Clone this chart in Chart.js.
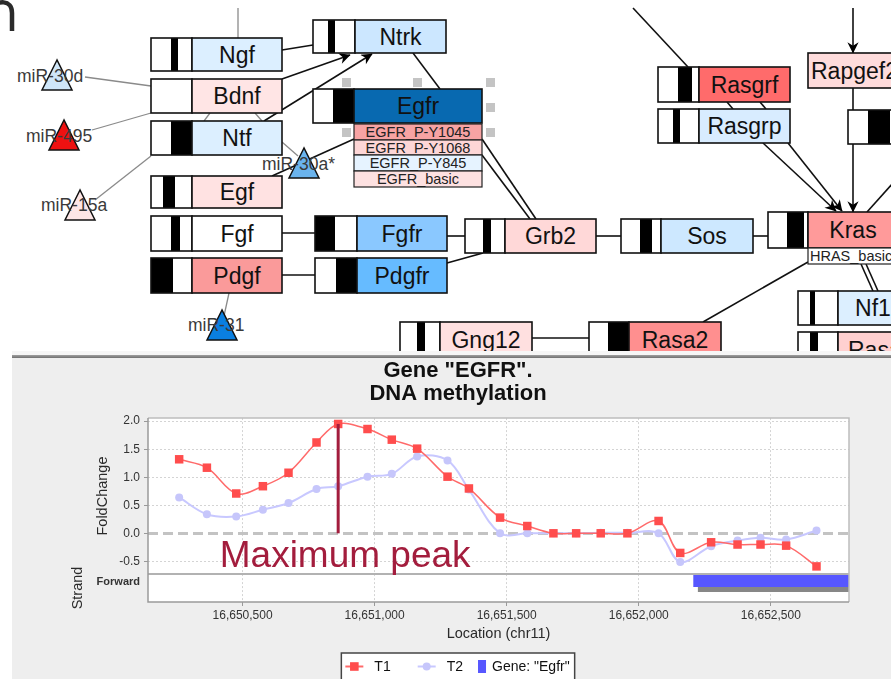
<!DOCTYPE html>
<html>
<head>
<meta charset="utf-8">
<script src="https://cdn.jsdelivr.net/npm/chart.js@4/dist/chart.umd.min.js"></script>
<style>
html,body{margin:0;padding:0;background:#fff;overflow:hidden;width:891px;height:679px;font-family:"Liberation Sans",Arial,sans-serif}
#diagram{position:absolute;left:0;top:0}
#panel{position:absolute;left:12px;top:351px;width:879px;height:328px;background:#eeeeee;overflow:hidden}
#band{position:absolute;left:0;top:0;width:100%;height:4px;background:#f6f6f6}
#rule{position:absolute;left:0;top:4px;width:100%;height:3px;background:linear-gradient(#a0a0a0,#707070)}
#wrap{position:absolute;left:0;top:7px;width:892px;height:321px}
</style>
</head>
<body>
<svg id="diagram" width="891" height="351" viewBox="0 0 891 351"></svg>
<div id="panel"><div id="band"></div><div id="rule"></div>
<div id="wrap"><canvas id="c" width="892" height="321"></canvas></div></div>
<script>
// ---------------- chart data ----------------
const titleLines = ['Gene "EGFR".', 'DNA methylation'];
const locations = [16650260,16650365,16650476,16650577,16650674,16650780,16650862,16650973,16651065,16651161,16651276,16651357,16651475,16651578,16651677,16651763,16651856,16651957,16652075,16652157,16652274,16652374,16652461,16652558,16652673];
const t1Values = [1.32,1.17,0.71,0.84,1.08,1.62,1.95,1.86,1.67,1.51,1.01,0.80,0.28,0.13,0.00,0.00,0.00,0.00,0.22,-0.35,-0.16,-0.20,-0.20,-0.22,-0.59];
const t2Values = [0.64,0.34,0.30,0.42,0.54,0.79,0.84,1.01,1.06,1.37,1.30,0.78,0.00,0.00,0.00,0.00,0.01,0.01,0.00,-0.51,-0.23,-0.13,-0.08,-0.11,0.05];
const seriesNames = ['T1', 'T2'];
const geneName = 'Egfr';
const geneStart = 16652206;
const geneShadowStart = 16652223;
const geneEnd = 16653000;
const xTickValues = [16650500,16651000,16651500,16652000,16652500];
const yTickValues = [-0.5,0,0.5,1,1.5,2];
const strandLabels = ['Forward'];
const xAxisTitle = 'Location (chr11)';
const yAxisTitle = 'FoldChange';
const strandTitle = 'Strand';
const peakLabel = 'Maximum peak';

// ---------------- pathway diagram (static picture) ----------------
(function(){
  const S = [];
  const add = s => S.push(s);
  const F = '"Liberation Sans",Arial,sans-serif';
  add('<defs><marker id="ah" viewBox="0 0 10 10" refX="9.5" refY="5" markerWidth="8" markerHeight="7" orient="auto" markerUnits="strokeWidth"><path d="M0,0 L10,5 L0,10 L3,5 z" fill="#000"/></marker></defs>');
  function L(x1,y1,x2,y2,opt){opt=opt||{};add(`<line x1="${x1}" y1="${y1}" x2="${x2}" y2="${y2}" stroke="${opt.c||'#111'}" stroke-width="${opt.w||1.6}"${opt.a?' marker-end="url(#ah)"':''}/>`);}
  function G(x1,y1,x2,y2){L(x1,y1,x2,y2,{c:'#8a8a8a',w:1.3});}
  function T(x,y,txt,fs,anchor,color){add(`<text x="${x}" y="${y}" font-family='${F}' font-size="${fs}" text-anchor="${anchor||'start'}" fill="${color||'#111'}">${txt}</text>`);}
  function gb(x,y,h,segs,x2,fill,label,opt){
    opt=opt||{};
    let cx=x;
    segs.forEach(([w,c])=>{add(`<rect x="${cx}" y="${y}" width="${w}" height="${h}" fill="${c}"/>`);cx+=w;});
    if(cx>x) add(`<rect x="${x}" y="${y}" width="${cx-x}" height="${h}" fill="none" stroke="#111" stroke-width="1.6"/>`);
    add(`<rect x="${cx}" y="${y}" width="${x2-cx}" height="${h}" fill="${fill}" stroke="#111" stroke-width="1.6"/>`);
    const fs=opt.fs||23;
    const tx = opt.tx!==undefined?opt.tx:(cx+x2)/2;
    T(tx, y+h/2+0.36*fs, label, fs, opt.anchor||'middle', opt.color||'#111');
  }
  function sub(x,y,w,h,fill,label){
    add(`<rect x="${x}" y="${y}" width="${w}" height="${h}" fill="${fill}" stroke="#222" stroke-width="1.2"/>`);
    T(x+w/2, y+h/2+5.2, label, 14.5, 'middle', '#222');
  }
  function tri(cx,top,fill){add(`<polygon points="${cx},${top} ${cx-15},${top+30} ${cx+15},${top+30}" fill="${fill}" stroke="#111" stroke-width="1.5"/>`);}

  // top-left partial letter
  add('<path d="M-9,9 C-3,0 12,-1 12,13 L12,31" stroke="#2b2b2b" stroke-width="4.5" fill="none"/>');
  // grey connectors
  G(238,8,238,38); G(85,77,151,86); G(92,130,151,113); G(95,200,151,156);
  G(282,142,298,156); G(229,293,224,316); G(210,113,204,121); G(255,113,262,121);
  // black connectors
  L(282,50,313,45); L(282,79,350,55,{a:1}); L(264,121,372,54,{a:1});
  L(413,53,440,89); L(272,176,354,139); L(482,139,536,219); L(482,155,530,219);
  L(282,233,315,233); L(282,275,315,275); L(447,236,465,236); L(447,263,483,253);
  L(596,236,621,236); L(753,236,768,236); L(633,8,688,67);
  L(853,8,853,53,{a:1}); L(853,88,853,110); L(853,144,853,212,{a:1});
  L(727,102,733,109); L(760,102,766,109);
  L(763,143,836,211,{a:1}); L(788,143,842,211,{a:1}); L(867,212,893,183);
  L(808,262,703,322); L(861,264,873,291); L(866,264,878,291); L(532,338,589,338);
  // grey handles around Egfr
  [[342,78],[413,78],[486,78],[486,103],[486,128],[342,128]].forEach(([x,y])=>add(`<rect x="${x}" y="${y}" width="9" height="9" fill="#c4c4c4"/>`));
  const W='#ffffff',B='#000000';
  gb(151,38,33,[[20,W],[7,B],[14,W]],282,'#dcefff','Ngf');
  gb(151,79,34,[[41,W]],282,'#ffe5e5','Bdnf');
  gb(151,121,34,[[20,W],[21,B]],282,'#dcefff','Ntf');
  gb(151,176,32,[[12,W],[12,B],[17,W]],282,'#ffe2e2','Egf');
  gb(151,216,35,[[20,W],[9,B],[12,W]],282,'#ffffff','Fgf');
  gb(151,258,35,[[22,B],[19,W]],282,'#fa9a9a','Pdgf');
  gb(313,20,33,[[15,W],[7,B],[20,W]],446,'#cce7ff','Ntrk');
  gb(313,89,34,[[20,W],[21,B]],482,'#0869b0','Egfr');
  sub(354,124,128,16,'#f7a3a3','EGFR_P-Y1045');
  sub(354,140,128,15,'#fdd6d6','EGFR_P-Y1068');
  sub(354,155,128,16,'#e6f3ff','EGFR_P-Y845');
  sub(354,171,128,16,'#fde1e1','EGFR_basic');
  gb(315,216,35,[[20,B],[22,W]],447,'#8ac8ff','Fgfr');
  gb(315,258,35,[[21,W],[21,B]],447,'#66bbff','Pdgfr');
  gb(658,67,35,[[20,W],[14,B],[7,W]],790,'#ff6b6b','Rasgrf');
  gb(658,109,34,[[15,W],[7,B],[19,W]],790,'#d8ecff','Rasgrp');
  gb(808,53,35,[],905,'#ffdcdc','Rapgef2',{tx:811,anchor:'start'});
  gb(848,110,34,[[20,W],[22,B],[10,W]],905,'#ffdcdc','');
  gb(465,219,34,[[18,W],[8,B],[14,W]],596,'#ffd8d8','Grb2');
  gb(621,219,34,[[19,W],[12,B],[9,W]],753,'#cde8ff','Sos');
  gb(768,212,36,[[19,W],[17,B],[4,W]],898,'#ff9a9a','Kras');
  sub(808,248,90,16,'#ffffff','');
  T(810,261,'HRAS_basic',14.5,'start','#222');
  gb(798,291,34,[[12,W],[5,B],[23,W]],930,'#dcefff','Nf1',{tx:873});
  gb(798,332,35,[[12,W],[8,B],[20,W]],930,'#ffd0d0','Rasa1',{tx:848,anchor:'start'});
  gb(400,322,35,[[17,W],[8,B],[15,W]],532,'#ffe0e0','Gng12');
  gb(589,322,35,[[19,W],[21,B]],721,'#ff8f8f','Rasa2');
  // miRNA triangles
  tri(57,60,'#cfe6f8'); tri(64,120,'#ee1111'); tri(80,190,'#fde6e6'); tri(304,148,'#6ab4ee'); tri(222,310,'#0a7fe0');
  T(17,82,'miR-30d',17.5,'start','#3a3a3a');
  T(26,142,'miR-495',17.5,'start','#3a3a3a');
  T(41,211,'miR-15a',17.5,'start','#3a3a3a');
  T(262,170,'miR-30a*',17.5,'start','#3a3a3a');
  T(188,331,'miR-31',17.5,'start','#3a3a3a');
  document.getElementById('diagram').innerHTML = S.join('');
})();

// ---------------- chart ----------------
const FONT = '"Liberation Sans", Arial, sans-serif';
Chart.defaults.font.family = FONT;
const PEAK = '#a31d3d';
const Y_MIN = -1.225, Y_MAX = 2.055;
const SEPARATOR = -0.725;      // boundary between FoldChange panel and strand track
const FORWARD_POS = -0.872;    // strand label row
const GENE_TOP = -0.743, GENE_BOTTOM = -0.957, SHADOW_BOTTOM = -1.046;
const near = (a,b) => Math.abs(a-b) < 1e-6;

const peakIndex = t1Values.indexOf(Math.max(...t1Values));
const fmtLoc = v => String(Math.round(v)).replace(/\B(?=(\d{3})+(?!\d))/g, ',');

const decor = {
  id: 'decor',
  beforeDraw(chart) {
    const {ctx, chartArea: a} = chart;
    ctx.save(); ctx.fillStyle = '#ffffff'; ctx.fillRect(a.left, a.top, a.width, a.height); ctx.restore();
  },
  afterDatasetsDraw(chart) {
    const {ctx, scales: {x, y}} = chart;
    ctx.save();
    ctx.font = '37px ' + FONT;
    ctx.fillStyle = PEAK;
    ctx.textAlign = 'center';
    ctx.textBaseline = 'alphabetic';
    ctx.fillText(peakLabel, x.getPixelForValue(locations[peakIndex]) + 7, y.getPixelForValue(-0.595));
    ctx.restore();
  },
  afterDraw(chart) {
    const {ctx, chartArea: a, scales: {y}} = chart;
    ctx.save();
    // frame
    ctx.lineWidth = 1.5;
    ctx.strokeStyle = '#bdbdbd';
    ctx.beginPath(); ctx.moveTo(a.left, a.top); ctx.lineTo(a.right, a.top); ctx.lineTo(a.right, a.bottom); ctx.stroke();
    ctx.strokeStyle = '#9a9a9a';
    ctx.beginPath(); ctx.moveTo(a.left, a.top); ctx.lineTo(a.left, a.bottom); ctx.lineTo(a.right, a.bottom); ctx.stroke();
    // axis titles
    ctx.fillStyle = '#2a2a2a';
    ctx.font = '14.5px ' + FONT;
    ctx.textAlign = 'center'; ctx.textBaseline = 'middle';
    const sep = y.getPixelForValue(SEPARATOR);
    ctx.save(); ctx.translate(90.5, (a.top + sep) / 2); ctx.rotate(-Math.PI/2); ctx.fillText(yAxisTitle, 0, 0); ctx.restore();
    ctx.save(); ctx.translate(66, (sep + a.bottom) / 2); ctx.rotate(-Math.PI/2); ctx.fillText(strandTitle, 0, 0); ctx.restore();
    ctx.fillText(xAxisTitle, (a.left + a.right) / 2, a.bottom + 32);
    // legend
    const items = chart.data.datasets.filter(d => d.inLegend);
    ctx.font = '14px ' + FONT;
    const parts = items.map(d => ({d, glyph: d.legendBar ? 8 : 18, gap: d.legendBar ? 6 : 11, tw: ctx.measureText(d.label).width}));
    const itemGap = [27, 15];
    let total = 4 + 5;
    parts.forEach((p,i) => { total += p.glyph + p.gap + p.tw + (i < parts.length-1 ? itemGap[i] : 0); });
    const left = chart.width/2 - total/2;
    const top = a.bottom + 51;
    const cy = top + 13.5;
    ctx.fillStyle = '#ffffff'; ctx.fillRect(left, top, total, 40);
    ctx.strokeStyle = '#444'; ctx.lineWidth = 1.5; ctx.strokeRect(left, top, total, 40);
    let cx = left + 4;
    parts.forEach((p,i) => {
      const d = p.d;
      if (d.legendBar) {
        ctx.fillStyle = d.backgroundColor; ctx.fillRect(cx, cy - 6.5, 8, 13);
      } else {
        ctx.strokeStyle = d.borderColor; ctx.lineWidth = 2;
        ctx.beginPath(); ctx.moveTo(cx, cy); ctx.lineTo(cx + 18, cy); ctx.stroke();
        ctx.fillStyle = d.backgroundColor;
        if (d.pointStyle === 'rect') ctx.fillRect(cx + 9 - 4.3, cy - 4.3, 8.6, 8.6);
        else { ctx.beginPath(); ctx.arc(cx + 9, cy, 4, 0, Math.PI*2); ctx.fill(); }
      }
      cx += p.glyph + p.gap;
      ctx.fillStyle = '#111'; ctx.textAlign = 'left'; ctx.textBaseline = 'middle';
      ctx.fillText(d.label, cx, cy + 1);
      cx += p.tw + (i < parts.length-1 ? itemGap[i] : 0);
    });
    ctx.restore();
  }
};

const xy = (xs, ys) => xs.map((x,i) => ({x, y: ys[i]}));

new Chart(document.getElementById('c'), {
  type: 'line',
  data: {
    datasets: [
      { label: 'peak', data: [{x: locations[peakIndex], y: 0}, {x: locations[peakIndex], y: t1Values[peakIndex]}],
        borderColor: PEAK, borderWidth: 3, pointRadius: 0, tension: 0, order: 0 },
      { label: seriesNames[0], inLegend: true, data: xy(locations, t1Values),
        borderColor: '#ff6a6a', backgroundColor: '#ff4d4d', borderWidth: 1.5,
        pointStyle: 'rect', pointRadius: 6, pointBorderWidth: 0, pointBackgroundColor: '#ff4d4d',
        tension: 0.35, order: 1 },
      { label: seriesNames[1], inLegend: true, data: xy(locations, t2Values),
        borderColor: '#c8c8ff', backgroundColor: '#c6c6fb', borderWidth: 2,
        pointStyle: 'circle', pointRadius: 4, pointBorderWidth: 0, pointBackgroundColor: '#c6c6fb',
        tension: 0.35, order: 2 },
      { label: 'Gene: "' + geneName + '"', inLegend: true, legendBar: true,
        data: [{x: geneStart, y: GENE_TOP}, {x: geneEnd, y: GENE_TOP}],
        fill: {value: GENE_BOTTOM}, backgroundColor: '#5757ff', borderColor: 'rgba(0,0,0,0)', borderWidth: 0, pointRadius: 0, tension: 0, order: 3 },
      { label: 'gene shadow', data: [{x: geneShadowStart, y: GENE_BOTTOM}, {x: geneEnd, y: GENE_BOTTOM}],
        fill: {value: SHADOW_BOTTOM}, backgroundColor: '#878787', borderColor: 'rgba(0,0,0,0)', borderWidth: 0, pointRadius: 0, tension: 0, order: 4 }
    ]
  },
  options: {
    responsive: false,
    animation: false,
    events: [],
    layout: { padding: 0 },
    plugins: {
      legend: { display: false },
      tooltip: { enabled: false },
      title: { display: true, text: titleLines, color: '#111',
               font: { size: 22, weight: 'bold', lineHeight: 1.07 }, padding: { top: 1, bottom: 12 } }
    },
    scales: {
      x: {
        type: 'linear', min: 16650142, max: 16652796,
        afterBuildTicks: s => { s.ticks = xTickValues.map(v => ({value: v})); },
        afterFit: s => { s.height = 77; },
        ticks: { callback: v => fmtLoc(v), font: { size: 12 }, color: '#333', padding: 2, maxRotation: 0, autoSkip: false },
        grid: { color: '#d4d4d4', lineWidth: 1, tickLength: 4, tickColor: '#999', tickWidth: 1 },
        border: { display: false, dash: [2, 2] }
      },
      y: {
        type: 'linear', position: 'left', min: Y_MIN, max: Y_MAX,
        afterBuildTicks: s => { s.ticks = yTickValues.concat([SEPARATOR, FORWARD_POS]).map(v => ({value: v})); },
        afterFit: s => { s.width = 136; },
        ticks: {
          autoSkip: false, padding: 4, color: '#333',
          callback: v => near(v, FORWARD_POS) ? strandLabels[0] : (near(v, SEPARATOR) ? '' : v.toFixed(1)),
          font: ctx => (ctx.tick && near(ctx.tick.value, FORWARD_POS)) ? { size: 11, weight: 'bold' } : { size: 12 }
        },
        grid: {
          color: ctx => {
            const v = ctx.tick ? ctx.tick.value : null;
            if (v === null) return '#d4d4d4';
            if (near(v, FORWARD_POS)) return 'rgba(0,0,0,0)';
            if (near(v, SEPARATOR)) return '#b2b2b2';
            if (near(v, 0)) return '#c3c3c3';
            return '#d4d4d4';
          },
          lineWidth: ctx => {
            const v = ctx.tick ? ctx.tick.value : null;
            if (v !== null && near(v, 0)) return 3;
            if (v !== null && near(v, SEPARATOR)) return 2;
            return 1;
          },
          tickLength: 4, tickWidth: 1,
          tickColor: ctx => (ctx.tick && (near(ctx.tick.value, FORWARD_POS) || near(ctx.tick.value, SEPARATOR))) ? 'rgba(0,0,0,0)' : '#999'
        },
        border: {
          display: false,
          dash: ctx => {
            const v = ctx.tick ? ctx.tick.value : null;
            if (v !== null && near(v, 0)) return [10, 5];
            if (v !== null && near(v, SEPARATOR)) return [];
            return [2, 2];
          }
        }
      },
      yr: {
        type: 'linear', position: 'right', display: true,
        grid: { display: false }, border: { display: false }, ticks: { display: false },
        afterFit: s => { s.width = 55; }
      }
    }
  },
  plugins: [decor]
});
</script>
</body>
</html>
